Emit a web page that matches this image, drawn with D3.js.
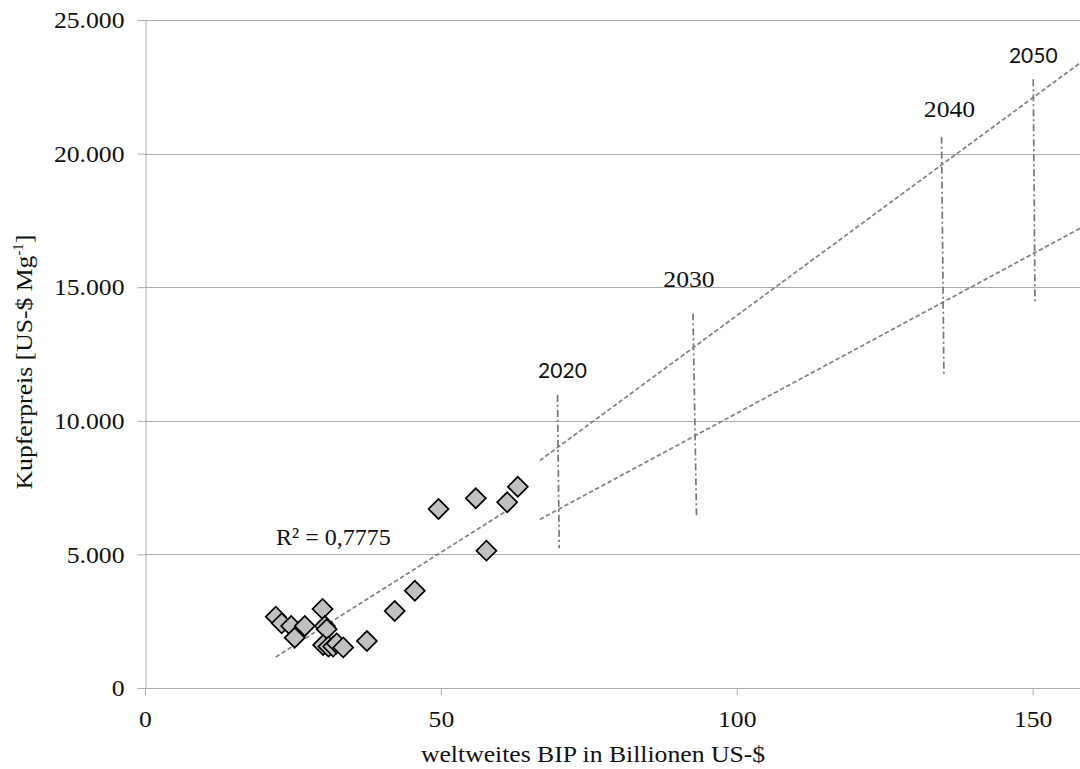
<!DOCTYPE html>
<html>
<head>
<meta charset="utf-8">
<script src="https://cdn.jsdelivr.net/npm/d3@7"></script>
<style>
  html, body { margin: 0; padding: 0; background: #fff; }
  svg { display: block; }
</style>
</head>
<body>
<svg id="chart" width="1080" height="769"></svg>
<script>
// Weltweites BIP (Billionen US-$) und Kupferpreis (US-$ je Mg)
const gdp   = [22.1, 23.1, 24.7, 25.3, 27.0, 30.0, 30.4, 30.7, 30.1, 31.0, 31.8, 32.4, 33.5, 37.5, 42.2, 45.6, 49.6, 55.9, 57.7, 61.2, 63.0];
const price = [2670, 2420, 2320, 1880, 2320, 2960, 2320, 2200, 1610, 1550, 1550, 1670, 1520, 1760, 2880, 3640, 6700, 7100, 5140, 6950, 7530];

// Lineare Trendlinie über die historischen Werte
const trendGdp   = [22.1, 62.2];
const trendPrice = [1160, 6785];
const rSquared = "0,7775";

// Projektionen bis 2050 (obere und untere Variante)
const projGdp        = [66.7, 158];
const projUpperPrice = [8510, 23390];
const projLowerPrice = [6310, 17200];

// Markierungen der Jahre
const years        = ["2020", "2030", "2040", "2050"];
const yearGdpTop   = [69.7, 92.6, 134.6, 150.1];
const yearPriceTop = [10970, 14020, 20630, 22780];
const yearGdpBot   = [70.0, 93.2, 135.0, 150.4];
const yearPriceBot = [5230, 6410, 11710, 14400];

// Achsenticks
const xTicks = [0, 50, 100, 150];
const yTicks = [0, 5000, 10000, 15000, 20000, 25000];

const svg = d3.select("#chart");
const STRETCH = 1.07;      // leicht gedehnte Serifenschrift
const FS = 24;
const serif = "'Liberation Serif', 'Times New Roman', serif";
const sans = "Lato, 'Open Sans', sans-serif";
const gridColor = "#ababab";
const lineColor = "#808080";

const x = d3.scaleLinear().domain([0, 158]).range([145, 1080]);
const y = d3.scaleLinear().domain([0, 25000]).range([688, 20]);

const de = d3.formatLocale({ decimal: ",", thousands: ".", grouping: [3], currency: ["", " $"] });
const fmt = de.format(",");

// Gitterlinien
svg.append("g")
  .selectAll("line")
  .data(yTicks.filter(d => d > 0))
  .join("line")
  .attr("x1", x(0)).attr("x2", 1080)
  .attr("y1", d => Math.round(y(d)) + 0.5).attr("y2", d => Math.round(y(d)) + 0.5)
  .attr("stroke", gridColor).attr("stroke-width", 1);

// y-Achse
const yAxis = svg.append("g")
  .attr("transform", `translate(${x(0) + 0.5},0)`)
  .call(d3.axisLeft(y).tickValues(yTicks).tickFormat(fmt).tickSize(8).tickSizeOuter(0));
yAxis.select(".domain").attr("stroke", gridColor);
yAxis.selectAll(".tick line").attr("stroke", gridColor);
yAxis.selectAll(".tick text")
  .attr("x", -21 / STRETCH)
  .attr("dy", "0.32em")
  .attr("transform", `scale(${STRETCH},1)`)
  .attr("font-family", serif).attr("font-size", FS).attr("fill", "#111");

// x-Achse
const xAxis = svg.append("g")
  .attr("transform", `translate(0,${y(0) + 0.5})`)
  .call(d3.axisBottom(x).tickValues(xTicks).tickFormat(d3.format("d")).tickSize(7).tickSizeOuter(0));
xAxis.select(".domain").attr("stroke", gridColor).attr("d", `M${x(0)},0H1080`);
xAxis.selectAll(".tick line").attr("stroke", gridColor);
xAxis.selectAll(".tick text")
  .attr("x", 0).attr("y", 39).attr("dy", 0)
  .attr("transform", `scale(${STRETCH},1)`)
  .attr("font-family", serif).attr("font-size", FS).attr("fill", "#111");

// Trendlinie (historisch)
const line = d3.line().x(d => x(d[0])).y(d => y(d[1]));
svg.append("path")
  .attr("d", line(d3.zip(trendGdp, trendPrice)))
  .attr("fill", "none").attr("stroke", lineColor)
  .attr("stroke-width", 1.7).attr("stroke-dasharray", "4.5,2.5");

// Projektionen
[projUpperPrice, projLowerPrice].forEach(p => {
  svg.append("path")
    .attr("d", line(d3.zip(projGdp, p)))
    .attr("fill", "none").attr("stroke", lineColor)
    .attr("stroke-width", 1.7).attr("stroke-dasharray", "4.5,2.5");
});

// Jahresmarken (Strich-Punkt)
const yearData = years.map((yr, i) => ({
  yr, gt: yearGdpTop[i], pt: yearPriceTop[i], gb: yearGdpBot[i], pb: yearPriceBot[i]
}));
svg.append("g")
  .selectAll("line")
  .data(yearData)
  .join("line")
  .attr("x1", d => x(d.gt)).attr("y1", d => y(d.pt))
  .attr("x2", d => x(d.gb)).attr("y2", d => y(d.pb))
  .attr("stroke", "#777").attr("stroke-width", 1.7)
  .attr("stroke-dasharray", "7,3,2,3");

// Beschriftung der Jahresmarken
const yearLabelStyle = [
  { font: sans,  gap: 17, dx: 5 },
  { font: serif, gap: 26, dx: -4 },
  { font: serif, gap: 20, dx: 8 },
  { font: sans,  gap: 16, dx: 0 }
];
svg.append("g")
  .selectAll("text")
  .data(yearData)
  .join("text")
  .attr("transform", (d, i) => `translate(${x(d.gt) + yearLabelStyle[i].dx},${y(d.pt) - yearLabelStyle[i].gap}) scale(${yearLabelStyle[i].font === serif ? STRETCH : 1},1)`)
  .attr("text-anchor", "middle")
  .attr("font-family", (d, i) => yearLabelStyle[i].font)
  .attr("font-size", (d, i) => yearLabelStyle[i].font === serif ? FS : 21)
  .attr("fill", "#111")
  .text(d => d.yr);

// Datenpunkte (Rauten)
const diamond = d3.symbol().type(d3.symbolSquare).size(200);
svg.append("g")
  .selectAll("path")
  .data(d3.zip(gdp, price))
  .join("path")
  .attr("d", diamond)
  .attr("transform", d => `translate(${x(d[0])},${y(d[1])}) rotate(45)`)
  .attr("fill", "#c0c0c0").attr("stroke", "#000").attr("stroke-width", 1.7)
  .attr("stroke-linejoin", "miter");

// Bestimmtheitsmaß
svg.append("text")
  .attr("transform", `translate(276,545) scale(1.0,1)`)
  .attr("font-family", serif).attr("font-size", FS).attr("fill", "#111")
  .text(`R² = ${rSquared}`);

// Achsentitel
svg.append("text")
  .attr("transform", `translate(593,762) scale(${STRETCH},1)`)
  .attr("text-anchor", "middle")
  .attr("font-family", serif).attr("font-size", FS).attr("fill", "#111")
  .text("weltweites BIP in Billionen US-$");

const yt = svg.append("text")
  .attr("transform", `translate(32,${(y(0) + y(25000)) / 2 + 8}) rotate(-90) scale(${STRETCH},1)`)
  .attr("text-anchor", "middle")
  .attr("font-family", serif).attr("font-size", FS).attr("fill", "#111");
yt.append("tspan").text("Kupferpreis [US-$ Mg");
yt.append("tspan").attr("font-size", 14).attr("dy", -9).text("-1");
yt.append("tspan").attr("dy", 9).text("]");
</script>
</body>
</html>
